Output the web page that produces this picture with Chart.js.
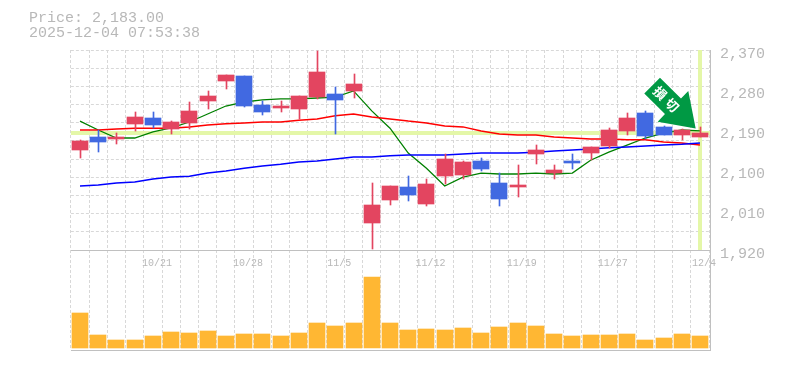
<!DOCTYPE html>
<html>
<head>
<meta charset="utf-8">
<style>
html,body{margin:0;padding:0;background:#fff;}
#wrap{position:relative;width:785px;height:370px;overflow:hidden;}
#head{position:absolute;left:29px;top:11px;font:15px/15px "Liberation Mono",monospace;color:#b8b8b8;white-space:pre;}
canvas{display:block;}
</style>
<script src="https://cdn.jsdelivr.net/npm/chart.js@4"></script>
</head>
<body>
<div id="wrap">
<canvas id="c" width="785" height="370"></canvas>
<div id="head">Price: 2,183.00
2025-12-04 07:53:38</div>
</div>
<script>
const dates = ['10/15','10/16','10/17','10/20','10/21','10/22','10/23','10/24','10/27','10/28','10/29','10/30','10/31','11/4','11/5','11/6','11/7','11/10','11/11','11/12','11/13','11/14','11/17','11/18','11/19','11/20','11/21','11/25','11/26','11/27','11/28','12/1','12/2','12/3','12/4'];
const opens  = [2145,2174,2170,2204,2217,2192,2206,2255,2300,2311,2246,2240,2237,2264,2271,2278,1981,2033,2062,2024,2086,2089,2120,2071,2062,2136,2093,2120,2138,2154,2188,2228,2197,2179,2174];
const closes = [2165,2163,2174,2219,2201,2208,2233,2267,2314,2244,2230,2244,2267,2320,2258,2294,2021,2064,2044,2069,2125,2118,2102,2035,2066,2145,2100,2116,2152,2190,2217,2176,2179,2190,2183];
const highs  = [2168,2190,2183,2230,2230,2210,2253,2278,2314,2311,2255,2255,2267,2368,2287,2316,2071,2064,2086,2080,2136,2120,2127,2093,2111,2156,2111,2136,2152,2194,2228,2233,2199,2192,2197];
const lows   = [2127,2141,2158,2188,2194,2181,2192,2237,2282,2242,2224,2230,2215,2260,2181,2262,1922,2021,2030,2019,2069,2080,2098,2019,2039,2114,2080,2102,2122,2150,2179,2170,2179,2167,2174];
const maShort = [2210,2190,2172,2172,2186,2195,2208,2226,2244,2253,2258,2260,2260,2262,2264,2278,2233,2194,2138,2104,2064,2084,2093,2091,2091,2093,2091,2093,2122,2140,2156,2172,2183,2190,2188];
const maMid   = [2190,2190,2192,2194,2194,2194,2197,2201,2204,2206,2208,2208,2212,2215,2222,2226,2219,2215,2210,2206,2199,2197,2188,2181,2179,2179,2174,2172,2170,2170,2168,2168,2163,2161,2156];
const maLong  = [2064,2066,2071,2073,2080,2084,2086,2093,2098,2104,2109,2113,2118,2120,2125,2129,2129,2132,2134,2134,2134,2136,2138,2138,2138,2140,2143,2145,2147,2150,2152,2154,2156,2158,2161];
const volumes = [35,13,8,8,12,16,15,17,12,14,14,12,15,25,22,25,71,25,18,19,18,20,15,21,25,22,14,12,13,13,14,8,10,14,12];
const priceLabels = [1920,2010,2100,2190,2280,2370];
const priceMin = 1920, priceMax = 2370, gridIntervals = 11;
const currentPrice = 2183;
const labelledEvery = 5;
const badgeText = ['損','切'];

const RED='#e34560', BLUE='#4169e1', ORANGE='#ffb733', LIME='#e4f7a8', FRAME='#c0c0c0', GRID='#d8d8d8', TEXT='#b8b8b8';
const FONT='"Liberation Mono", monospace';
const isUp = opens.map((o,i)=>closes[i]>=o);
const candleColors = isUp.map(u=>u?RED:BLUE);
const wickData = highs.map((h,i)=>[lows[i],h]);
const bodyData = opens.map((o,i)=>[o,closes[i]]);
const gridStep = (priceMax-priceMin)/gridIntervals;
const gridValues = Array.from({length:gridIntervals+1},(_,k)=>priceMin+k*gridStep);

const snapBars = {
  id:'snapBars',
  afterDatasetsUpdate(chart){
    chart.data.datasets.forEach((ds,di)=>{
      if(ds.type!=='bar') return;
      chart.getDatasetMeta(di).data.forEach(el=>{
        const c=Math.round(el.x);
        el.x = ds.barThickness===1 ? c+0.5 : c;
        el.y=Math.round(el.y);
        el.base=Math.round(el.base);
      });
    });
  }
};
const backdrop = {
  id:'backdrop',
  beforeDatasetsDraw(chart){
    const {ctx,chartArea:a,scales:{x,y}}=chart;
    ctx.save();
    ctx.fillStyle=LIME;
    const py=Math.round(y.getPixelForValue(currentPrice));
    ctx.fillRect(a.left,py-2,a.right-a.left+1,4);
    const px=Math.round(x.getPixelForValue(dates.length-1));
    ctx.fillRect(px-2,y.top,4,y.bottom-y.top);
    ctx.fillStyle=FRAME;
    const L=Math.round(a.left), R=Math.round(a.right)+1;
    ctx.fillRect(L,Math.round(y.bottom),R-L+1,1);
    ctx.fillRect(L,Math.round(a.bottom),R-L+1,1);
    ctx.fillRect(R,Math.round(a.top),1,a.bottom-a.top+1);
    ctx.restore();
  }
};
const badge = {
  id:'badge',
  afterDatasetsDraw(chart){
    const {ctx,scales:{x,y}}=chart;
    const ox=x.getPixelForValue(dates.length-1), oy=y.getPixelForValue(currentPrice);
    const pts=[[-40,-55.3],[-19,-34.7],[-11.7,-42],[-4.3,-4.7],[-42.3,-11.3],[-35,-19],[-55.7,-39.7]];
    ctx.save();
    ctx.fillStyle='#009944';
    ctx.beginPath();
    pts.forEach((p,i)=>i?ctx.lineTo(ox+p[0],oy+p[1]):ctx.moveTo(ox+p[0],oy+p[1]));
    ctx.closePath();
    ctx.fill();
    ctx.translate(ox-34,oy-34);
    ctx.rotate(Math.PI/4);
    ctx.fillStyle='#fff';
    ctx.font='bold 13px "Noto Sans CJK JP"';
    ctx.textAlign='center';
    ctx.textBaseline='middle';
    ctx.fillText(badgeText[0],-8.5,0);
    ctx.fillText(badgeText[1],8.5,0);
    ctx.restore();
  }
};
const fixWidth = s => { s.width = 75.9; };

new Chart(document.getElementById('c'),{
  data:{
    labels:dates,
    datasets:[
      {type:'line',label:'short',data:maShort,yAxisID:'y',borderColor:'#008000',borderWidth:1.3,pointRadius:0,tension:0,order:5},
      {type:'line',label:'mid',data:maMid,yAxisID:'y',borderColor:'#ff0000',borderWidth:1.5,pointRadius:0,tension:0,order:4},
      {type:'line',label:'long',data:maLong,yAxisID:'y',borderColor:'#0000ff',borderWidth:1.5,pointRadius:0,tension:0,order:3},
      {type:'bar',label:'wick',data:wickData,yAxisID:'y',backgroundColor:candleColors,barThickness:1,grouped:false,order:2},
      {type:'bar',label:'body',data:bodyData,yAxisID:'y',backgroundColor:candleColors,barThickness:16,grouped:false,order:1},
      {type:'bar',label:'volume',data:volumes,yAxisID:'v',backgroundColor:ORANGE,barThickness:16,grouped:false,order:6}
    ]
  },
  plugins:[snapBars,backdrop,badge],
  options:{
    responsive:false,
    animation:false,
    layout:{padding:{left:70.88,top:50,bottom:20,right:0}},
    plugins:{legend:{display:false},title:{display:false},tooltip:{enabled:false}},
    scales:{
      x:{
        type:'category',
        position:{y:priceMin},
        offset:true,
        grid:{offset:true,color:GRID,lineWidth:1,drawTicks:false},
        border:{display:false,dash:[3,2]},
        ticks:{
          autoSkip:false,maxRotation:0,minRotation:0,padding:7,labelOffset:4,
          color:TEXT,font:{family:FONT,size:10},
          callback(v,i){return (i%labelledEvery===labelledEvery-1)?dates[i]:'';}
        }
      },
      y:{
        type:'linear',
        position:'right',
        stack:'panels',stackWeight:2,
        min:priceMin,max:priceMax,
        afterFit:fixWidth,
        afterBuildTicks(s){
          s.ticks=[...new Set([...gridValues,...priceLabels])].sort((a,b)=>a-b).map(value=>({value}));
        },
        grid:{
          drawTicks:false,lineWidth:1,
          color:ctx=>gridValues.some(g=>Math.abs(g-ctx.tick.value)<1e-6)?GRID:'rgba(0,0,0,0)'
        },
        border:{display:false,dash:[3,2]},
        ticks:{
          autoSkip:false,padding:11,labelOffset:4,color:TEXT,font:{family:FONT,size:15},
          callback(v){return priceLabels.includes(v)?v.toLocaleString('en-US'):'';}
        }
      },
      v:{
        type:'linear',
        position:'right',
        stack:'panels',stackWeight:1,
        min:-2,max:98,
        afterFit:fixWidth,
        grid:{display:false},
        border:{display:false},
        ticks:{display:false}
      }
    }
  }
});
</script>
</body>
</html>
